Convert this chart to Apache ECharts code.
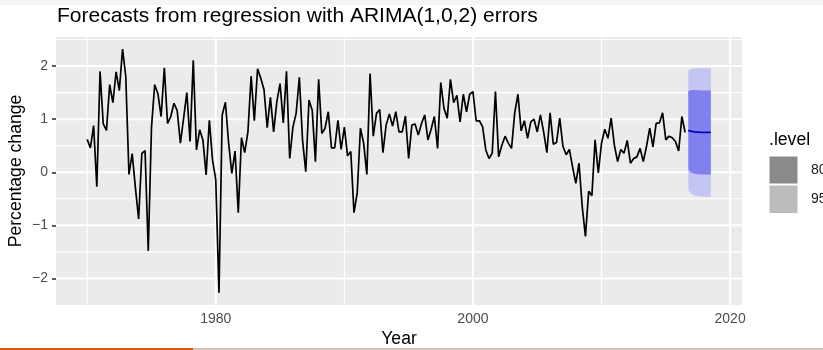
<!DOCTYPE html>
<html>
<head>
<meta charset="utf-8">
<script src="https://cdn.jsdelivr.net/npm/echarts@6/dist/echarts.min.js"></script>
<style>
  html, body { margin: 0; padding: 0; background: #ffffff; }
  #chart { width: 823px; height: 350px; }
</style>
</head>
<body>
<div id="chart"></div>
<script>
// Quarterly percentage change in US consumption, 1970 Q1 onwards
const startYear = 1970;
const consumption = [
  0.62, 0.46, 0.88, -0.27, 1.90, 0.91, 0.79, 1.65, 1.31, 1.89,
  1.54, 2.32, 1.81, -0.04, 0.35, -0.29, -0.88, 0.35, 0.41, -1.48,
  0.84, 1.65, 1.48, 1.05, 1.97, 0.92, 1.05, 1.30, 1.16, 0.55,
  1.02, 1.50, 0.58, 2.11, 0.42, 0.80, 0.61, -0.05, 0.98, 0.23,
  -0.14, -2.27, 1.08, 1.32, 0.55, -0.02, 0.40, -0.76, 0.65, 0.37,
  0.76, 1.81, 0.97, 1.95, 1.77, 1.56, 0.84, 1.41, 0.76, 1.33,
  1.67, 0.93, 1.90, 0.26, 0.85, 1.11, 1.79, 0.60, 0.01, 1.36,
  1.17, 0.20, 1.75, 0.73, 0.83, 1.14, 0.46, 0.46, 0.98, 0.43,
  0.85, 0.31, 0.39, -0.76, -0.39, 0.83, 0.55, -0.04, 1.86, 0.68,
  1.11, 1.18, 0.37, 0.89, 1.10, 0.87, 1.14, 0.76, 0.76, 1.06,
  0.26, 0.89, 0.91, 0.70, 0.92, 1.08, 0.61, 0.81, 1.05, 0.45,
  1.69, 1.20, 1.02, 1.75, 1.31, 1.45, 0.95, 1.47, 1.14, 1.47,
  1.52, 0.97, 0.97, 0.86, 0.42, 0.26, 0.36, 1.52, 0.29, 0.51,
  0.68, 0.55, 0.45, 1.12, 1.47, 0.78, 0.97, 0.64, 0.95, 1.00,
  0.76, 1.08, 0.76, 0.37, 1.12, 0.53, 0.56, 1.02, 0.49, 0.33,
  0.43, 0.10, -0.21, 0.17, -0.65, -1.21, -0.36, -0.44, 0.61, -0.01,
  0.55, 0.81, 0.64, 1.02, 0.51, 0.20, 0.43, 0.36, 0.60, 0.17,
  0.26, 0.29, 0.45, 0.20, 0.49, 0.83, 0.48, 0.92, 0.93, 1.12,
  0.61, 0.68, 0.65, 0.58, 0.40, 1.05, 0.75
];

// Eight-quarter forecast, 2016 Q4 to 2018 Q3
const forecastYears = [2016.75, 2017.0, 2017.25, 2017.5, 2017.75, 2018.0, 2018.25, 2018.5];
const forecastMean = [0.79, 0.77, 0.76, 0.755, 0.75, 0.75, 0.75, 0.75];
const lower80 = [0.05, -0.01, -0.03, -0.035, -0.04, -0.04, -0.04, -0.04];
const upper80 = [1.53, 1.55, 1.55, 1.545, 1.54, 1.54, 1.54, 1.54];
const lower95 = [-0.34, -0.41, -0.44, -0.45, -0.46, -0.46, -0.46, -0.46];
const upper95 = [1.92, 1.95, 1.96, 1.96, 1.96, 1.96, 1.96, 1.96];

// Axis breaks
const xBreaks = [1980, 2000, 2020];
const xMinorBreaks = [1970, 1990, 2010];
const yBreaks = [-2, -1, 0, 1, 2];
const yMinorBreaks = [-1.5, -0.5, 0.5, 1.5, 2.5];

const xMin = 1967.575, xMax = 2020.925;
const yMin = -2.5, yMax = 2.548;

const FONT = '"Liberation Sans", Arial, sans-serif';
const levelLabels = ['80', '95'];

const historyData = consumption.map((v, i) => [startYear + i / 4, v]);
const meanData = forecastYears.map((x, i) => [x, forecastMean[i]]);

// grid lines: [value, direction (0 vertical, 1 horizontal), major flag]
const gridData = []
  .concat(xMinorBreaks.map(v => [v, 0, 0]))
  .concat(yMinorBreaks.map(v => [v, 1, 0]))
  .concat(xBreaks.map(v => [v, 0, 1]))
  .concat(yBreaks.map(v => [v, 1, 1]));

function bandSeries(lo, hi, color) {
  return {
    type: 'custom',
    silent: true,
    z: 3,
    data: forecastYears.map((x, i) => [x, lo[i], hi[i]]),
    encode: { x: 0, y: [1, 2] },
    renderItem: function (params, api) {
      if (params.dataIndex !== 0) return null;
      const pts = [];
      for (let i = 0; i < forecastYears.length; i++) pts.push(api.coord([forecastYears[i], hi[i]]));
      for (let i = forecastYears.length - 1; i >= 0; i--) pts.push(api.coord([forecastYears[i], lo[i]]));
      return { type: 'polygon', shape: { points: pts }, style: { fill: color } };
    }
  };
}

const minus = s => String(s).replace('-', '\u2212');

const chart = echarts.init(document.getElementById('chart'), null, { renderer: 'canvas' });
chart.setOption({
  animation: false,
  backgroundColor: '#ffffff',
  grid: {
    left: 56, right: 81, top: 37, bottom: 45,
    show: true, backgroundColor: '#EBEBEB', borderWidth: 0
  },
  xAxis: {
    type: 'value', min: xMin, max: xMax,
    axisLine: { show: false },
    splitLine: { show: false },
    axisTick: { show: true, length: 4, lineStyle: { color: '#333333', width: 1.6 }, customValues: xBreaks },
    axisLabel: { color: '#4D4D4D', fontSize: 14, fontFamily: FONT, margin: 7, customValues: xBreaks,
                 formatter: v => String(v) }
  },
  yAxis: {
    type: 'value', min: yMin, max: yMax,
    axisLine: { show: false },
    splitLine: { show: false },
    axisTick: { show: true, length: 4, lineStyle: { color: '#333333', width: 1.6 }, customValues: yBreaks },
    axisLabel: { color: '#4D4D4D', fontSize: 14, fontFamily: FONT, margin: 8, customValues: yBreaks,
                 formatter: v => minus(v) }
  },
  series: [
    {
      type: 'custom',
      silent: true,
      z: 1,
      data: gridData,
      encode: { x: 0, y: 1 },
      renderItem: function (params, api) {
        const v = api.value(0), dir = api.value(1), major = api.value(2);
        const cs = params.coordSys;
        const w = major ? 2 : 1.1;
        if (dir === 0) {
          const x = api.coord([v, 0])[0];
          return { type: 'line', shape: { x1: x, y1: cs.y, x2: x, y2: cs.y + cs.height },
                   style: { stroke: '#ffffff', lineWidth: w } };
        }
        const y = api.coord([2000, v])[1];
        return { type: 'line', shape: { x1: cs.x, y1: y, x2: cs.x + cs.width, y2: y },
                 style: { stroke: '#ffffff', lineWidth: w } };
      }
    },
    {
      type: 'line',
      z: 2,
      data: historyData,
      showSymbol: false,
      silent: true,
      lineStyle: { color: '#000000', width: 1.7 }
    },
    bandSeries(lower95, upper95, '#C5C5F4'),
    bandSeries(lower80, upper80, '#8080EE'),
    {
      type: 'line',
      z: 4,
      data: meanData,
      showSymbol: false,
      silent: true,
      lineStyle: { color: '#0000B8', width: 1.7 }
    }
  ],
  graphic: [
    { type: 'rect', silent: true, shape: { x: 0, y: 0, width: 823, height: 5 }, style: { fill: '#F5F5F5' } },
    { type: 'text', silent: true, x: 57, y: 16,
      style: { text: 'Forecasts from regression with ARIMA(1,0,2) errors', fontSize: 21, fontFamily: FONT,
               fill: '#000000', align: 'left', verticalAlign: 'middle' } },
    { type: 'text', silent: true, x: 16, y: 171, rotation: Math.PI / 2,
      style: { text: 'Percentage change', fontSize: 17.6, fontFamily: FONT,
               fill: '#000000', align: 'center', verticalAlign: 'middle' } },
    { type: 'text', silent: true, x: 399, y: 339,
      style: { text: 'Year', fontSize: 17.6, fontFamily: FONT,
               fill: '#000000', align: 'center', verticalAlign: 'middle' } },
    { type: 'text', silent: true, x: 769, y: 140,
      style: { text: '.level', fontSize: 17.6, fontFamily: FONT,
               fill: '#000000', align: 'left', verticalAlign: 'middle' } },
    { type: 'rect', silent: true, shape: { x: 769.5, y: 156.5, width: 28, height: 27 }, style: { fill: '#8A8A8A' } },
    { type: 'rect', silent: true, shape: { x: 769.5, y: 185.5, width: 28, height: 27.5 }, style: { fill: '#BCBCBC' } },
    { type: 'text', silent: true, x: 811, y: 170,
      style: { text: levelLabels[0], fontSize: 14, fontFamily: FONT, fill: '#1A1A1A', align: 'left', verticalAlign: 'middle' } },
    { type: 'text', silent: true, x: 811, y: 199,
      style: { text: levelLabels[1], fontSize: 14, fontFamily: FONT, fill: '#1A1A1A', align: 'left', verticalAlign: 'middle' } },
    { type: 'rect', silent: true, shape: { x: 0, y: 348, width: 193, height: 2 }, style: { fill: '#D35C0C' } },
    { type: 'rect', silent: true, shape: { x: 193, y: 348, width: 630, height: 2 }, style: { fill: '#D5C3B4' } }
  ]
});
</script>
</body>
</html>
